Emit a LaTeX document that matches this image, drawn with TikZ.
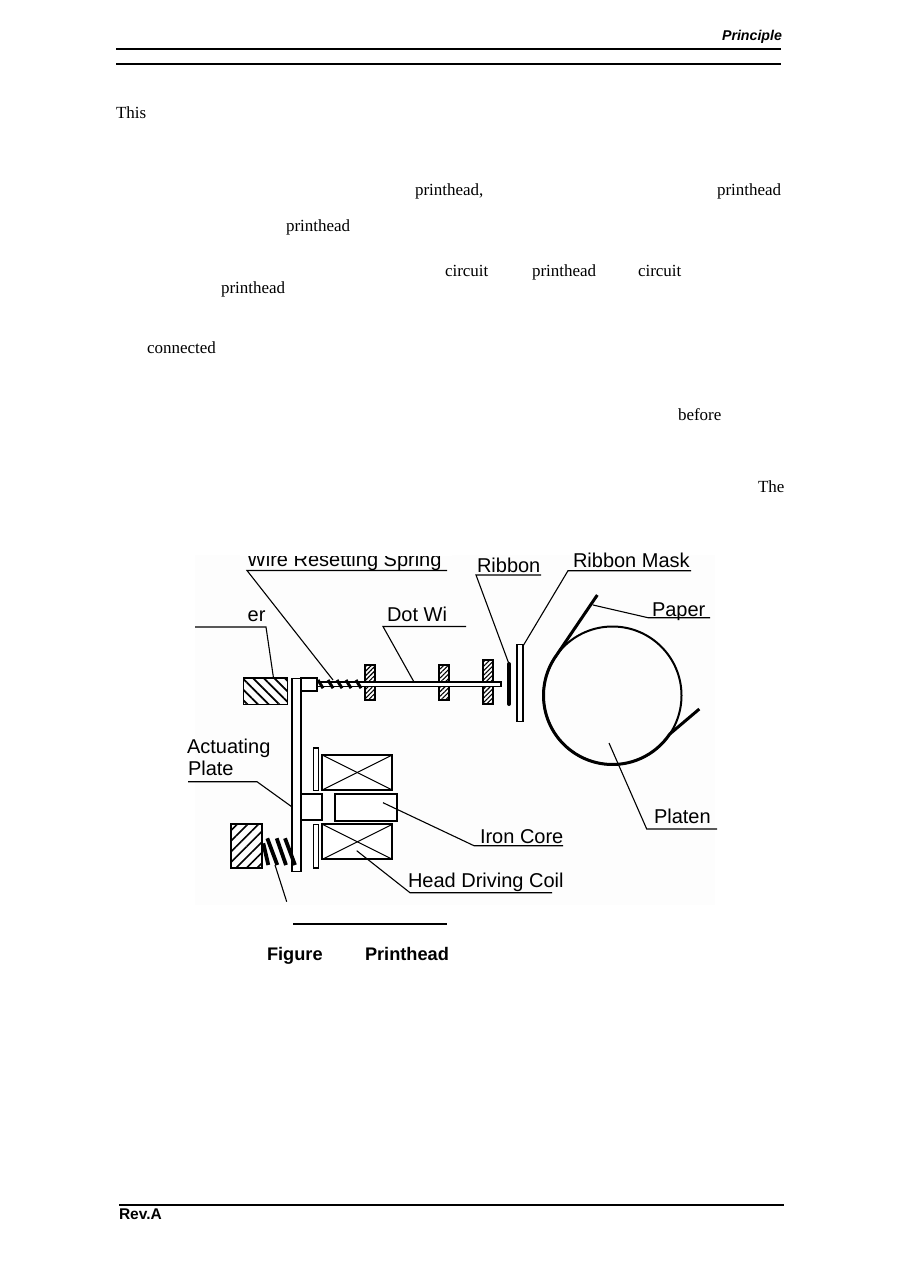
\documentclass[tikz,border=0pt]{standalone}
\usepackage{fontspec}
\setmainfont{Liberation Serif}
\newfontfamily\lblfont{Liberation Sans}
\usetikzlibrary{patterns.meta, positioning}

\begin{document}
\begin{tikzpicture}[x=1pt, y=-1pt, inner sep=0pt, outer sep=0pt,
    bodytext/.style={anchor=base west, font=\fontsize{17}{20}\selectfont},
    lbl/.style={anchor=base west, font=\lblfont\fontsize{20}{24}\selectfont},
    part/.style={draw, line width=1.9pt, fill=white},
    leader/.style={draw, line width=1.1pt},
    rule/.style={line width=2.2pt},
    hatchwide/.style={pattern={Lines[angle=45, distance=7.5pt, line width=1.6pt]}},
    hatchback/.style={pattern={Lines[angle=135, distance=7.5pt, line width=1.8pt]}},
    hatchfine/.style={pattern={Lines[angle=45, distance=3.2pt, line width=1.1pt]}},
    coilwire/.style={line width=3pt},
    thickspring/.style={line width=3.8pt},
    paperline/.style={line width=3pt}]
    \useasboundingbox (0,0) rectangle (897,1263);
    \fill[black!0.8] (195,555) rectangle (715,905);

    % page furniture
    \node (pagehead) [anchor=base east, font=\lblfont\bfseries\itshape\fontsize{14.2}{16}\selectfont] at (782,41) {Principle};
    \coordinate (ruleAl) at (116,49);
    \coordinate (ruleAr) at (781,49);
    \coordinate (ruleBl) at (116,64);
    \coordinate (ruleBr) at (781,64);
    \coordinate (ruleCl) at (119,1205);
    \coordinate (ruleCr) at (784,1205);
    \draw[rule] (ruleAl) -- (ruleAr);
    \draw[rule] (ruleBl) -- (ruleBr);
    \draw[rule] (ruleCl) -- (ruleCr);
    \node (rev) [anchor=base west, font=\lblfont\bfseries\fontsize{15.5}{18}\selectfont] at (119,1219) {Rev.A};

    % words of the running text
    \node (w1) [bodytext] at (116,118) {This};
    \node (w2) [bodytext] at (415,195) {printhead,};
    \node (w3) [bodytext] at (717,195) {printhead};
    \node (w4) [bodytext] at (286,231) {printhead};
    \node (w5) [bodytext] at (445,276) {circuit};
    \node (w6) [bodytext] at (532,276) {printhead};
    \node (w7) [bodytext] at (638,276) {circuit};
    \node (w8) [bodytext] at (221,293) {printhead};
    \node (w9) [bodytext] at (147,353) {connected};
    \node (w10) [bodytext] at (678,420) {before};
    \node (w11) [bodytext] at (758,492) {The};

    % stopper, plate and armature
    \node (stopper) [part, hatchback, minimum width=44pt, minimum height=26.5pt] at (265.5,691.2) {};
    \node (plate) [part, minimum width=8.5pt, minimum height=193pt] at (296.3,775) {};
    \node (armature) [part, minimum width=16.5pt, minimum height=13pt] at (309,684.5) {};
    \node (pole) [part, minimum width=21.5pt, minimum height=26pt] at (311.3,807) {};

    % return spring and its anchor block
    \node (anchorblock) [part, hatchwide, minimum width=31pt, minimum height=43.5pt] at (246.6,846) {};
    \foreach \xa/\ya/\xb in {263.3/843.3/268.3, 267.3/838.3/277.3, 276.7/838.3/286, 285/838.3/295}
        \draw[thickspring] (\xa,\ya) -- (\xb,865);

    % wire guides, wire and its spring
    \node (guideA) [part, hatchfine, minimum width=10pt, minimum height=35pt] at (370,682.5) {};
    \node (guideB) [part, hatchfine, minimum width=10pt, minimum height=35pt, right=64pt of guideA] {};
    \node (guideC) [part, hatchfine, minimum width=10pt, minimum height=44pt] at (487.7,682) {};
    \node (wire) [part, line width=1.6pt, minimum width=184pt, minimum height=4.6pt] at (409,684.2) {};
    \foreach \x in {320,330,339,348,358}
        \draw[coilwire] (\x-2,680) -- (\x+3,688.2);

    % ribbon and mask
    \coordinate (ribbonA) at (509,664);
    \coordinate (ribbonB) at (509,704);
    \draw[line width=4pt, line cap=round] (ribbonA) -- (ribbonB);
    \node (mask) [part, line width=1.6pt, minimum width=6pt, minimum height=77pt] at (519.7,683) {};

    % platen with the paper round it
    \node (platen) [draw, circle, line width=2pt, minimum size=138pt] at (612.5,695.5) {};
    \draw[paperline] (platen.144) arc[start angle=144, end angle=326, radius=69pt];
    \coordinate (paperA) at (597.3,595);
    \coordinate (paperB) at (699.3,709);
    \draw[paperline] (paperA) -- (platen.144);
    \draw[paperline] (paperB) -- (platen.326);

    % driving coils and iron core
    \node (coilA) [part, minimum width=70pt, minimum height=35pt] at (357.3,772.5) {};
    \node (coilB) [part, minimum width=70pt, minimum height=35pt, below=34.3pt of coilA] {};
    \foreach \c in {coilA, coilB} {
        \draw[line width=1pt] (\c.north west) -- (\c.south east);
        \draw[line width=1pt] (\c.south west) -- (\c.north east);
    }
    \node (barA) [part, line width=1.6pt, minimum width=5pt, minimum height=42.7pt] at (315.8,769.3) {};
    \node (barB) [part, line width=1.6pt, minimum width=5pt, minimum height=43.4pt] at (315.8,846) {};
    \node (core) [part, minimum width=61.7pt, minimum height=26.5pt] at (365.8,807.3) {};

    % labels
    \node (lblspring) [lbl] at (247,566.5) {Wire Resetting Spring};
    \fill[white] (240,545) rectangle (452,555.5);
    \node (lblstopper) [lbl, anchor=base east] at (265.5,621) {er};
    \node (lbldot) [lbl] at (387,621) {Dot Wi};
    \node (lblribbon) [lbl] at (477,572) {Ribbon};
    \node (lblmask) [lbl] at (573,567) {Ribbon Mask};
    \node (lblpaper) [lbl] at (652,616) {Paper};
    \node (lblplaten) [lbl] at (654,823) {Platen};
    \node (lblcore) [lbl] at (480,843) {Iron Core};
    \node (lblcoil) [lbl] at (408,887) {Head Driving Coil};
    \node (lblact) [lbl] at (187,753.5) {Actuating};
    \node (lblplate) [lbl] at (188,775) {Plate};
    \node (lblfig) [anchor=base west, font=\lblfont\bfseries\fontsize{18.2}{20}\selectfont] at (267,960) {Figure};
    \node (lblhead) [anchor=base west, font=\lblfont\bfseries\fontsize{18.2}{20}\selectfont] at (365,960) {Printhead};

    % leader lines
    \coordinate (kspring) at (247,570.5);
    \coordinate (espring) at (447,570.5);
    \coordinate (tspring) at (333,680);
    \draw[leader] (espring) -- (kspring) -- (tspring);
    \coordinate (estopper) at (195,627);
    \coordinate (kstopper) at (266,627);
    \coordinate (tstopper) at (273.5,678);
    \draw[leader] (estopper) -- (kstopper) -- (tstopper);
    \coordinate (kdot) at (383,626.5);
    \coordinate (edot) at (466,626.5);
    \coordinate (tdot) at (414,682);
    \draw[leader] (edot) -- (kdot) -- (tdot);
    \coordinate (kribbon) at (476,575);
    \coordinate (eribbon) at (541,575);
    \draw[leader] (eribbon) -- (kribbon) -- (ribbonA);
    \coordinate (kmask) at (568,570.7);
    \coordinate (emask) at (691,570.7);
    \coordinate (tmask) at (523,646);
    \draw[leader] (emask) -- (kmask) -- (tmask);
    \coordinate (tpaper) at (593,605);
    \coordinate (kpaper) at (648,617.7);
    \coordinate (epaper) at (710,617.7);
    \draw[leader] (tpaper) -- (kpaper) -- (epaper);
    \coordinate (tplaten) at (609,743);
    \coordinate (kplaten) at (646.7,829);
    \coordinate (eplaten) at (717,829);
    \draw[leader] (tplaten) -- (kplaten) -- (eplaten);
    \coordinate (tcore) at (383,802.7);
    \coordinate (kcore) at (474,845.7);
    \coordinate (ecore) at (563,845.7);
    \draw[leader] (tcore) -- (kcore) -- (ecore);
    \coordinate (tcoil) at (356.7,850.7);
    \coordinate (kcoil) at (410,892.7);
    \coordinate (ecoil) at (552,892.7);
    \draw[leader] (tcoil) -- (kcoil) -- (ecoil);
    \coordinate (eplate) at (188,781.7);
    \coordinate (kplate) at (257,781.7);
    \coordinate (tplate) at (291.7,806.7);
    \draw[leader] (eplate) -- (kplate) -- (tplate);
    \coordinate (treturn) at (275,865);
    \coordinate (ereturn) at (286.7,901.7);
    \draw[leader] (treturn) -- (ereturn);
    \coordinate (capA) at (293.3,924);
    \coordinate (capB) at (447,924);
    \draw[leader] (capA) -- (capB);
\end{tikzpicture}
\end{document}
